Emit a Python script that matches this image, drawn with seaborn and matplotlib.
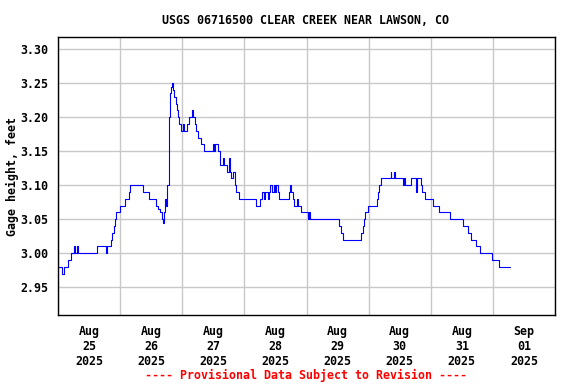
import matplotlib
matplotlib.use('Agg')
import matplotlib.pyplot as plt
import matplotlib.dates as mdates
import numpy as np
import pandas as pd
import seaborn as sns

# gage height change points (hours after Aug 25 00:00)
START = pd.Timestamp('2025-08-25 00:00')
hours = [0, 1.7, 2.3, 3.9, 5.0, 6.2, 6.7, 7.2, 7.6, 15.2, 18.4, 18.9, 20.6, 21.0,
         21.5, 21.9, 22.3, 23.9, 25.8, 27.5, 28.0, 33.0, 35.0, 37.8, 38.7, 39.3,
         40.2, 40.6, 41.0, 41.3, 41.9, 42.3, 42.8, 43.1, 43.5, 43.9, 44.4, 45.0,
         45.4, 46.1, 46.4, 46.8, 47.7, 48.1, 48.5, 49.7, 50.5, 51.6, 52.1, 52.8,
         53.4, 54.0, 55.4, 56.3, 59.9, 60.4, 60.8, 61.7, 62.5, 62.7, 63.6, 64.0,
         65.3, 66.2, 66.6, 67.0, 67.6, 68.3, 68.6, 69.9, 76.6, 78.2, 78.8, 79.5,
         79.9, 81.0, 81.4, 81.8, 82.8, 83.4, 83.9, 84.3, 84.8, 85.4, 89.2, 89.5,
         90.2, 90.8, 91.2, 92.4, 92.7, 93.7, 96.5, 96.9, 97.2, 108.6, 109.3, 110.1,
         116.9, 117.8, 118.2, 118.6, 119.9, 123.1, 123.6, 124.1, 124.6, 128.5,
         128.8, 129.7, 130.1, 133.4, 133.7, 134.1, 136.3, 138.3, 138.8, 140.1,
         140.8, 141.7, 145.0, 147.2, 151.5, 156.5, 158.2, 159.7, 161.4, 163.1,
         167.5, 170.4, 174.7]
gage_ft = [2.98, 2.97, 2.98, 2.99, 3.00, 3.01, 3.00, 3.01, 3.00, 3.01, 3.00, 3.01, 3.02, 3.03,
           3.04, 3.05, 3.06, 3.07, 3.08, 3.09, 3.10, 3.09, 3.08, 3.07, 3.065, 3.06,
           3.05, 3.045, 3.06, 3.08, 3.07, 3.10, 3.20, 3.235, 3.245, 3.25, 3.24, 3.23,
           3.22, 3.21, 3.20, 3.19, 3.18, 3.19, 3.18, 3.19, 3.20, 3.21, 3.20, 3.19,
           3.18, 3.17, 3.16, 3.15, 3.16, 3.15, 3.16, 3.15, 3.14, 3.13, 3.14, 3.13,
           3.12, 3.14, 3.12, 3.11, 3.12, 3.10, 3.09, 3.08, 3.07, 3.08, 3.09, 3.08,
           3.09, 3.08, 3.09, 3.10, 3.09, 3.10, 3.09, 3.10, 3.09, 3.08, 3.09, 3.10,
           3.09, 3.08, 3.07, 3.08, 3.07, 3.06, 3.05, 3.06, 3.05, 3.04, 3.03, 3.02,
           3.03, 3.04, 3.05, 3.06, 3.07, 3.08, 3.09, 3.10, 3.11, 3.12,
           3.11, 3.12, 3.11, 3.10, 3.11, 3.10, 3.11, 3.09, 3.11, 3.10,
           3.09, 3.08, 3.07, 3.06, 3.05, 3.04, 3.03, 3.02, 3.01, 3.00,
           2.99, 2.98, 2.98]

day_labels = ['Aug\n25\n2025', 'Aug\n26\n2025', 'Aug\n27\n2025', 'Aug\n28\n2025',
              'Aug\n29\n2025', 'Aug\n30\n2025', 'Aug\n31\n2025', 'Sep\n01\n2025']
y_ticks = [2.95, 3.00, 3.05, 3.10, 3.15, 3.20, 3.25, 3.30]

sns.set_theme(style='white')
plt.rcParams['font.family'] = ['DejaVu Sans Mono']
plt.rcParams['font.weight'] = 'bold'
for key in ['text.color', 'axes.labelcolor', 'xtick.color', 'ytick.color']:
    plt.rcParams[key] = 'black'
FS = 8.4

df = pd.DataFrame({'time': START + pd.to_timedelta(hours, unit='h'), 'gage': gage_ft})

fig = plt.figure(figsize=(5.76, 3.84), dpi=100)
ax = fig.add_axes([58 / 576, 1 - 315 / 384, (555 - 58) / 576, (315 - 37) / 384])

sns.lineplot(data=df, x='time', y='gage', drawstyle='steps-post', color='#0000ff',
             linewidth=0.8, estimator=None, sort=False, ax=ax)

midnights = pd.date_range('2025-08-25', periods=9, freq='D')
noons = midnights[:-1] + pd.Timedelta(hours=12)
ax.set_xlim(mdates.date2num(midnights[0]), mdates.date2num(midnights[-1]))
ax.set_xticks(mdates.date2num(midnights))
ax.set_xticklabels([])
ax.set_xticks(mdates.date2num(noons), minor=True)
ax.set_xticklabels(day_labels, minor=True, fontsize=FS, fontweight='bold')

ax.set_ylim(2.909, 3.318)
ax.set_yticks(y_ticks)
ax.set_yticklabels([f'{v:.2f}' for v in y_ticks], fontsize=FS, fontweight='bold')

ax.tick_params(axis='both', which='both', length=0)
ax.tick_params(axis='x', which='minor', pad=7)
ax.tick_params(axis='y', pad=7)
ax.grid(True, which='major', color='#c8c8c8', linewidth=1)
for s in ax.spines.values():
    s.set_color('black')
    s.set_linewidth(1)
    s.set_visible(True)

ax.set_xlabel('')
ax.set_ylabel('Gage height, feet', fontsize=FS, fontweight='bold', labelpad=1)
fig.text(306 / 576, 1 - 20 / 384, 'USGS 06716500 CLEAR CREEK NEAR LAWSON, CO',
         ha='center', va='center', fontsize=FS, fontweight='bold')
fig.text(306 / 576, 1 - 375 / 384, '---- Provisional Data Subject to Revision ----',
         ha='center', va='center', fontsize=FS, fontweight='bold', color='red')

fig.savefig('out.png', dpi=100)
